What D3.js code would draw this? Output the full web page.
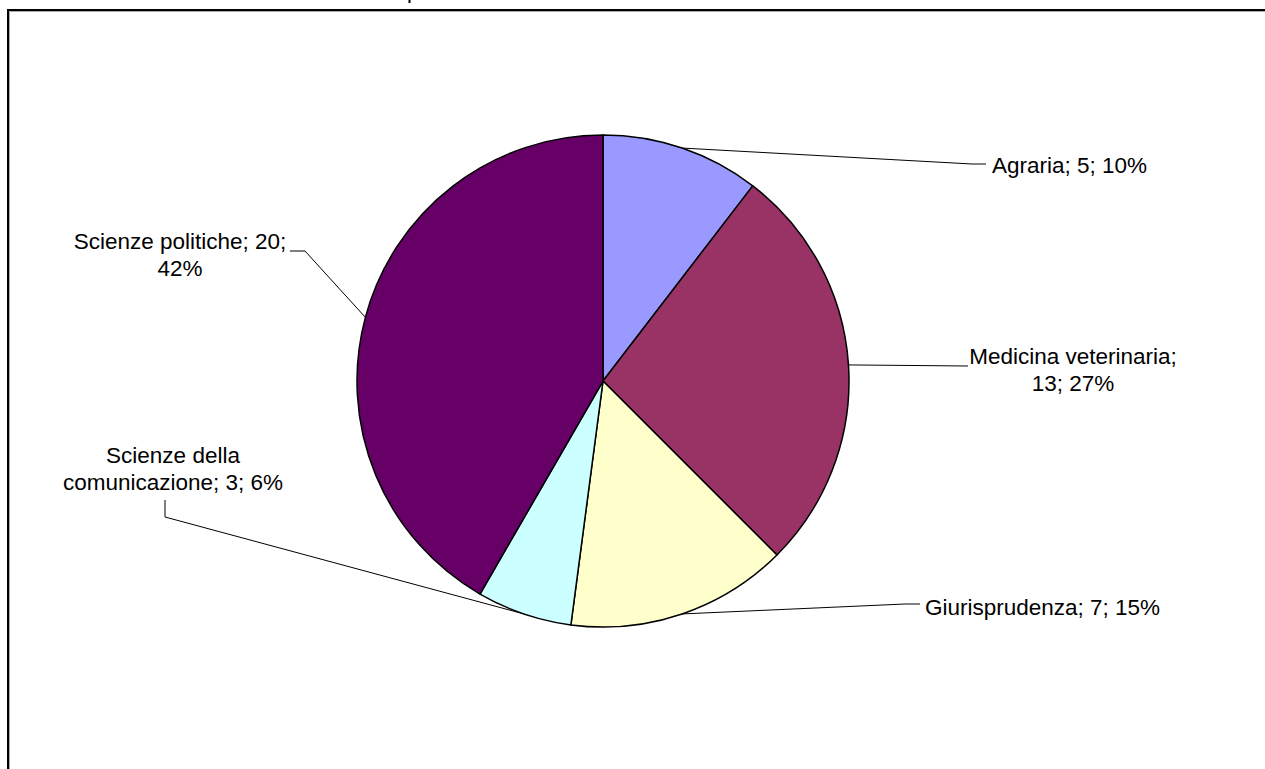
<!DOCTYPE html>
<html>
<head>
<meta charset="utf-8">
<script src="https://cdn.jsdelivr.net/npm/d3@7"></script>
<style>
  html, body { margin: 0; background: #fff; overflow: hidden; }
  svg { display: block; overflow: hidden; }
  text { font-family: "Liberation Sans", Arial, sans-serif; fill: #000; }
</style>
</head>
<body>
<svg width="1265" height="769"></svg>
<script>
// data
var categories = ["Agraria", "Medicina veterinaria", "Giurisprudenza", "Scienze della comunicazione", "Scienze politiche"];
var values = [5, 13, 7, 3, 20];
var percents = ["10%", "27%", "15%", "6%", "42%"];
var colors = ["#9999FF", "#993366", "#FFFFCC", "#CCFFFF", "#660066"];

var svg = d3.select("svg"),
    width = +svg.attr("width"),
    height = +svg.attr("height");

// frame of the chart area (cut at right and bottom)
svg.append("path")
    .attr("d", "M8," + (height + 5) + " V10 H" + (width + 5))
    .attr("fill", "none")
    .attr("stroke", "#000")
    .attr("stroke-width", 2);
svg.append("path")
    .attr("d", "M9.5," + (height + 5) + " V11.5 H" + (width + 5))
    .attr("fill", "none")
    .attr("stroke", "#aaa")
    .attr("stroke-width", 1);

// cut off title, only a descender is visible
svg.append("text")
    .attr("x", 407).attr("y", -2)
    .style("font-size", "22px")
    .text("p");

var cx = 603, cy = 381, r = 246;

var pie = d3.pie().sort(null).value(function (d) { return d.value; });
var arc = d3.arc().innerRadius(0).outerRadius(r);

var data = categories.map(function (c, i) {
    return {name: c, value: values[i], pct: percents[i], color: colors[i]};
});
var arcs = pie(data);

var g = svg.append("g").attr("transform", "translate(" + cx + "," + cy + ")");

g.selectAll("path.slice")
    .data(arcs)
    .enter().append("path")
    .attr("class", "slice")
    .attr("d", arc)
    .attr("fill", function (d) { return d.data.color; })
    .attr("stroke", "#000")
    .attr("stroke-width", 1.5)
    .attr("stroke-linejoin", "round");

function edge(d) {
    var a = (d.startAngle + d.endAngle) / 2;
    return [cx + r * Math.sin(a), cy - r * Math.cos(a)];
}

// label layout: text position, anchor, and leader knee points
var layout = [
    {x: 992, y: 173, anchor: "start", knees: [[972, 164], [986, 164]]},
    {x: 1073, y: 364, anchor: "middle", knees: [[968, 366]]},
    {x: 925, y: 615, anchor: "start", knees: [[905, 604], [920, 604]]},
    {x: 173, y: 463, anchor: "middle", knees: [[165, 517], [165, 500]]},
    {x: 180, y: 249, anchor: "middle", knees: [[305, 251], [290, 251]]}
];

arcs.forEach(function (d, i) {
    var L = layout[i];
    var txt;
    if (i === 1) txt = [d.data.name + ";", d.data.value + "; " + d.data.pct];
    else if (i === 3) txt = ["Scienze della", "comunicazione; " + d.data.value + "; " + d.data.pct];
    else if (i === 4) txt = [d.data.name + "; " + d.data.value + ";", d.data.pct];
    else txt = [d.data.name + "; " + d.data.value + "; " + d.data.pct];

    var pts = [edge(d)].concat(L.knees);
    svg.append("path")
        .attr("d", d3.line()(pts))
        .attr("fill", "none")
        .attr("stroke", "#000")
        .attr("stroke-width", 1);

    var t = svg.append("text")
        .attr("x", L.x).attr("y", L.y)
        .attr("text-anchor", L.anchor)
        .style("font-size", "22.5px");
    txt.forEach(function (s, k) {
        t.append("tspan")
            .attr("x", L.x)
            .attr("dy", k === 0 ? 0 : 27)
            .text(s);
    });
});
</script>
</body>
</html>
